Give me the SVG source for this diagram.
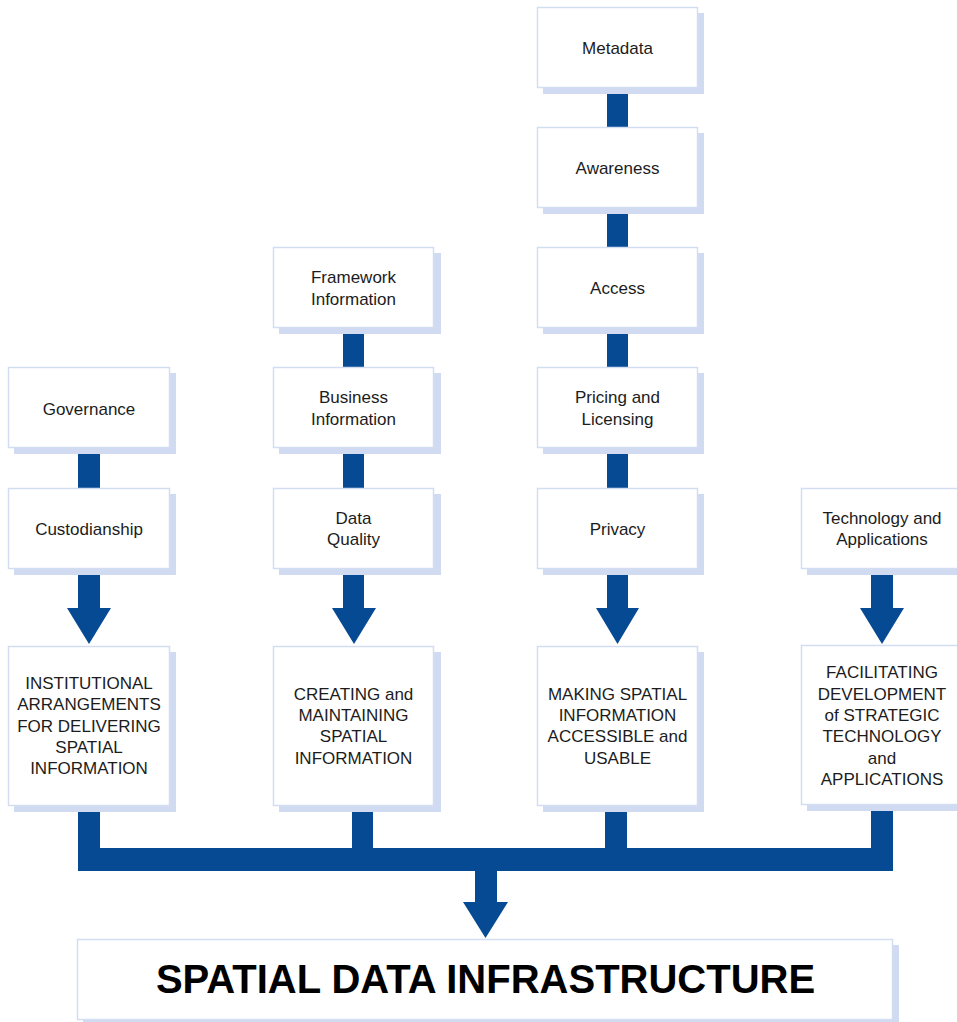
<svg xmlns="http://www.w3.org/2000/svg" width="957" height="1022" viewBox="0 0 957 1022">
  <style>
    .shadow { fill: #d0daf0; }
    .box { fill: #ffffff; stroke: #d3ddf1; stroke-width: 1.5; }
    .lbl { font-family: "Liberation Sans", Arial, sans-serif; font-size: 17px; fill: #1c1c1c; text-anchor: middle; }
    .title { font-family: "Liberation Sans", Arial, sans-serif; font-size: 40px; font-weight: bold; fill: #000000; text-anchor: middle; }
    .flow { fill: #064a94; }
  </style>
  <rect width="957" height="1022" fill="#ffffff"/>

  <!-- connectors: bars, arrows and the collecting bus -->
  <g id="connectors" class="flow">
    <!-- column 1 -->
    <rect x="78" y="448" width="22" height="40"/>
    <polygon points="78,569 100,569 100,608 111,608 89,644 67,608 78,608"/>
    <!-- column 2 -->
    <rect x="343" y="328" width="21" height="40"/>
    <rect x="343" y="448" width="21" height="40"/>
    <polygon points="343,569 364,569 364,608 376,608 354,644 332,608 343,608"/>
    <!-- column 3 -->
    <rect x="607" y="87" width="21" height="40"/>
    <rect x="607" y="208" width="21" height="40"/>
    <rect x="607" y="328" width="21" height="40"/>
    <rect x="607" y="448" width="21" height="40"/>
    <polygon points="607,569 628,569 628,608 639,608 617.5,644 596,608 607,608"/>
    <!-- column 4 -->
    <polygon points="871,569 893,569 893,608 904,608 882,644 860,608 871,608"/>
    <!-- bus joining all four columns -->
    <path d="M78,806 H100 V848 H352 V806 H373 V848 H605 V806 H627 V848 H871 V805 H893 V871 H78 Z"/>
    <!-- arrow into the foundation box -->
    <polygon points="475,870 497,870 497,902 508,902 485.5,938 463,902 475,902"/>
  </g>

  <!-- column 1 -->
  <g id="governance">
    <rect class="shadow" x="14" y="373" width="162" height="81"/>
    <rect class="box" x="8.5" y="367.5" width="161" height="80"/>
    <text class="lbl" x="89" y="415">Governance</text>
  </g>
  <g id="custodianship">
    <rect class="shadow" x="14" y="494" width="162" height="81"/>
    <rect class="box" x="8.5" y="488.5" width="161" height="80"/>
    <text class="lbl" x="89" y="535">Custodianship</text>
  </g>
  <g id="institutional">
    <rect class="shadow" x="14" y="652" width="162" height="160"/>
    <rect class="box" x="8.5" y="646.5" width="161" height="159"/>
    <text class="lbl" x="89" y="689">INSTITUTIONAL</text>
    <text class="lbl" x="89" y="710">ARRANGEMENTS</text>
    <text class="lbl" x="89" y="731.5">FOR DELIVERING</text>
    <text class="lbl" x="89" y="753">SPATIAL</text>
    <text class="lbl" x="89" y="774">INFORMATION</text>
  </g>

  <!-- column 2 -->
  <g id="framework">
    <rect class="shadow" x="279" y="253" width="162" height="81"/>
    <rect class="box" x="273.5" y="247.5" width="160" height="80"/>
    <text class="lbl" x="353.5" y="283">Framework</text>
    <text class="lbl" x="353.5" y="304.5">Information</text>
  </g>
  <g id="business">
    <rect class="shadow" x="279" y="373" width="162" height="81"/>
    <rect class="box" x="273.5" y="367.5" width="160" height="80"/>
    <text class="lbl" x="353.5" y="403">Business</text>
    <text class="lbl" x="353.5" y="424.5">Information</text>
  </g>
  <g id="data-quality">
    <rect class="shadow" x="279" y="494" width="162" height="81"/>
    <rect class="box" x="273.5" y="488.5" width="160" height="80"/>
    <text class="lbl" x="353.5" y="523.5">Data</text>
    <text class="lbl" x="353.5" y="545">Quality</text>
  </g>
  <g id="creating">
    <rect class="shadow" x="279" y="652" width="162" height="160"/>
    <rect class="box" x="273.5" y="646.5" width="160" height="159"/>
    <text class="lbl" x="353.5" y="699.5">CREATING and</text>
    <text class="lbl" x="353.5" y="720.5">MAINTAINING</text>
    <text class="lbl" x="353.5" y="742">SPATIAL</text>
    <text class="lbl" x="353.5" y="763.5">INFORMATION</text>
  </g>

  <!-- column 3 -->
  <g id="metadata">
    <rect class="shadow" x="543" y="13" width="161" height="81"/>
    <rect class="box" x="537.5" y="7.5" width="160" height="80"/>
    <text class="lbl" x="617.5" y="54">Metadata</text>
  </g>
  <g id="awareness">
    <rect class="shadow" x="543" y="133" width="161" height="81"/>
    <rect class="box" x="537.5" y="127.5" width="160" height="80"/>
    <text class="lbl" x="617.5" y="174">Awareness</text>
  </g>
  <g id="access">
    <rect class="shadow" x="543" y="253" width="161" height="81"/>
    <rect class="box" x="537.5" y="247.5" width="160" height="80"/>
    <text class="lbl" x="617.5" y="294">Access</text>
  </g>
  <g id="pricing">
    <rect class="shadow" x="543" y="373" width="161" height="81"/>
    <rect class="box" x="537.5" y="367.5" width="160" height="80"/>
    <text class="lbl" x="617.5" y="403">Pricing and</text>
    <text class="lbl" x="617.5" y="424.5">Licensing</text>
  </g>
  <g id="privacy">
    <rect class="shadow" x="543" y="494" width="161" height="81"/>
    <rect class="box" x="537.5" y="488.5" width="160" height="80"/>
    <text class="lbl" x="617.5" y="535">Privacy</text>
  </g>
  <g id="making-accessible">
    <rect class="shadow" x="543" y="652" width="161" height="160"/>
    <rect class="box" x="537.5" y="646.5" width="160" height="159"/>
    <text class="lbl" x="617.5" y="699.5">MAKING SPATIAL</text>
    <text class="lbl" x="617.5" y="720.5">INFORMATION</text>
    <text class="lbl" x="617.5" y="742">ACCESSIBLE and</text>
    <text class="lbl" x="617.5" y="763.5">USABLE</text>
  </g>

  <!-- column 4 -->
  <g id="technology">
    <rect class="shadow" x="807" y="494" width="162" height="81"/>
    <rect class="box" x="801.5" y="488.5" width="161" height="80"/>
    <text class="lbl" x="882" y="523.5">Technology and</text>
    <text class="lbl" x="882" y="545">Applications</text>
  </g>
  <g id="facilitating">
    <rect class="shadow" x="807" y="651" width="162" height="160"/>
    <rect class="box" x="801.5" y="645.5" width="161" height="159"/>
    <text class="lbl" x="882" y="678">FACILITATING</text>
    <text class="lbl" x="882" y="699.5">DEVELOPMENT</text>
    <text class="lbl" x="882" y="721">of STRATEGIC</text>
    <text class="lbl" x="882" y="742">TECHNOLOGY</text>
    <text class="lbl" x="882" y="763.5">and</text>
    <text class="lbl" x="882" y="785">APPLICATIONS</text>
  </g>

  <!-- foundation -->
  <g id="sdi">
    <rect class="shadow" x="83" y="945" width="816" height="81"/>
    <rect class="box" x="77.5" y="939.5" width="815" height="80"/>
    <text class="title" x="485.5" y="993">SPATIAL DATA INFRASTRUCTURE</text>
  </g>
</svg>
